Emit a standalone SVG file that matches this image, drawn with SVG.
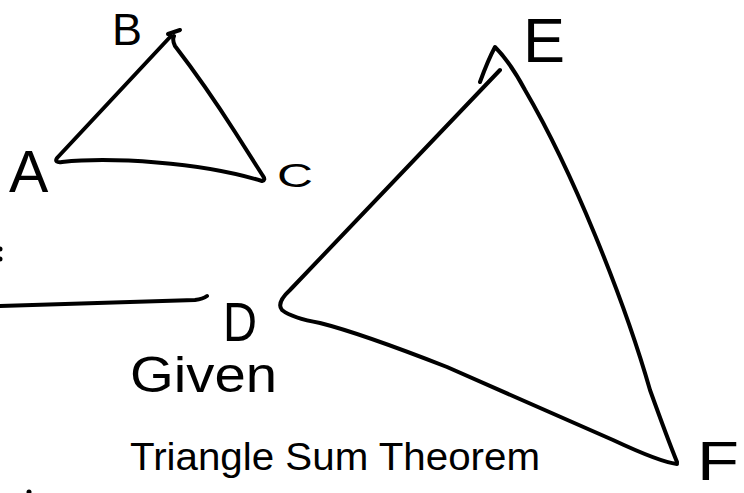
<svg xmlns="http://www.w3.org/2000/svg" width="744" height="493" viewBox="0 0 744 493">
<style>
.s{fill:none;stroke:#000;stroke-width:4;stroke-linecap:round;stroke-linejoin:round}
.t{font-family:"Liberation Sans","DejaVu Sans",sans-serif;fill:#000}
</style>
<rect width="744" height="493" fill="#fff"/>
<g id="triangle-abc">
<path class="s" d="M168,34 L180,30"/>
<path class="s" d="M171,36 L57,158 Q54,163 62,162 C110,157 200,162 262,181 Q266,180 263,176 L235,132 Q205,85 175,46 Q172,40 174,36"/>
</g>
<g id="triangle-def">
<path class="s" d="M480,82 Q488,60 495,47 Q510,62 525,90 Q560,150 595,235 Q630,320 650,390 Q668,440 677,462"/>
<path class="s" d="M500,70 L290,290 Q276,303 282,310 Q292,318 320,323 Q360,333 447,367 L613,440 Q660,462 677,464"/>
</g>
<g id="segment">
<path class="s" d="M0,306 L195,300 Q203,299 207,296"/>
</g>
<g id="marks">
<circle cx="0" cy="249" r="2.5"/>
<circle cx="0" cy="259" r="2.5"/>
<circle cx="29" cy="492" r="2.5"/>
</g>
<g id="labels">
<text class="t" x="112" y="45" font-size="45">B</text>
<text class="t" x="9" y="192" font-size="59">A</text>
<text class="t" x="277" y="187" font-size="34" textLength="36" lengthAdjust="spacingAndGlyphs">C</text>
<text class="t" x="523" y="62" font-size="63">E</text>
<text class="t" x="223" y="341" font-size="56" textLength="34" lengthAdjust="spacingAndGlyphs">D</text>
<text class="t" x="697" y="480" font-size="56" textLength="42" lengthAdjust="spacingAndGlyphs">F</text>
<text class="t" x="130" y="392" font-size="50" textLength="147" lengthAdjust="spacingAndGlyphs">Given</text>
<text class="t" x="130" y="470" font-size="38" textLength="410" lengthAdjust="spacingAndGlyphs">Triangle Sum Theorem</text>
</g>
</svg>
